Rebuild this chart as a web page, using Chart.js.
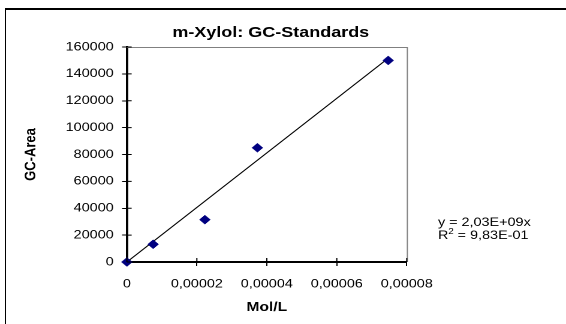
<!DOCTYPE html>
<html><head><meta charset="utf-8">
<script src="https://cdn.jsdelivr.net/npm/chart.js@4/dist/chart.umd.min.js"></script>
<style>
html,body{margin:0;padding:0;background:#fff;overflow:hidden;width:566px;height:324px;}
#frame{position:absolute;left:5px;top:8px;width:700px;height:500px;border-top:2px solid #000;border-left:1px solid #000;box-sizing:border-box;}
#wrap{position:absolute;left:0;top:0;width:472px;height:324px;transform:scaleX(1.19915);transform-origin:0 0;}
</style></head><body>
<div id="frame"></div>
<div id="wrap"><canvas id="c" width="472" height="324"></canvas></div>
<script>
// ---- data ----
const xValues = [0, 0.0000075, 0.0000223, 0.0000373, 0.0000747];
const yValues = [0, 13200, 31500, 85000, 150000];
const trendX = [0, 0.0000747];
const trendY = [0, 151600];
const xTickValues = [0, 0.00002, 0.00004, 0.00006, 0.00008];
const xTickLabels = ['0', '0,00002', '0,00004', '0,00006', '0,00008'];
const yTickValues = [0, 20000, 40000, 60000, 80000, 100000, 120000, 140000, 160000];
const yTickLabels = ['0', '20000', '40000', '60000', '80000', '100000', '120000', '140000', '160000'];
const titleText = 'm-Xylol: GC-Standards';
const xTitle = 'Mol/L';
const yTitle = 'GC-Area';
const eqLine1 = 'y = 2,03E+09x';
const eqLine2a = 'R';
const eqLine2sup = '2';
const eqLine2b = ' = 9,83E-01';

const FONT = "'Liberation Sans', Arial, sans-serif";
const TICK_IN = 4;

const innerTicks = {
  id: 'innerTicks',
  afterDatasetsDraw(chart) {
    const {ctx, chartArea: a, scales: {x, y}} = chart;
    ctx.save();
    ctx.strokeStyle = '#000';
    ctx.lineWidth = 1;
    ctx.beginPath();
    x.ticks.forEach(t => { const px = x.getPixelForValue(t.value); ctx.moveTo(px, a.bottom); ctx.lineTo(px, a.bottom - TICK_IN); });
    y.ticks.forEach(t => { const py = y.getPixelForValue(t.value); ctx.moveTo(a.left, py); ctx.lineTo(a.left + TICK_IN, py); });
    ctx.stroke();
    ctx.restore();
  }
};

const plotFrame = {
  id: 'plotFrame',
  beforeDatasetsDraw(chart) {
    const {ctx, chartArea: a} = chart;
    ctx.save();
    ctx.strokeStyle = '#808080';
    ctx.lineWidth = 1;
    ctx.beginPath();
    ctx.moveTo(a.left, a.top + 0.5);
    ctx.lineTo(a.right + 0.5, a.top + 0.5);
    ctx.lineTo(a.right + 0.5, a.bottom);
    ctx.stroke();
    ctx.restore();
  }
};

const equation = {
  id: 'equation',
  afterDraw(chart) {
    const {ctx, chartArea: a} = chart;
    ctx.save();
    ctx.fillStyle = '#000';
    ctx.textBaseline = 'alphabetic';
    ctx.textAlign = 'left';
    const x0 = a.right + 26;
    ctx.font = '12px ' + FONT;
    ctx.fillText(eqLine1, x0, a.bottom - 36);
    const b2 = a.bottom - 23;
    ctx.fillText(eqLine2a, x0, b2);
    let w = ctx.measureText(eqLine2a).width;
    ctx.font = '8px ' + FONT;
    ctx.fillText(eqLine2sup, x0 + w, b2 - 5);
    w += ctx.measureText(eqLine2sup).width;
    ctx.font = '12px ' + FONT;
    ctx.fillText(eqLine2b, x0 + w, b2);
    ctx.restore();
  }
};

new Chart(document.getElementById('c'), {
  type: 'scatter',
  data: {
    datasets: [
      {
        label: 'Standards',
        data: xValues.map((x, i) => ({x: x, y: yValues[i]})),
        pointStyle: 'rectRot',
        pointRadius: 4.5,
        backgroundColor: '#000080',
        borderColor: '#000080',
        borderWidth: 0.5,
        clip: false,
        order: 0
      },
      {
        label: 'Trend',
        data: trendX.map((x, i) => ({x: x, y: trendY[i]})),
        showLine: true,
        borderColor: '#000',
        borderWidth: 1,
        pointRadius: 0,
        fill: false,
        clip: false,
        order: 1
      }
    ]
  },
  options: {
    responsive: false,
    animation: false,
    devicePixelRatio: 2,
    layout: {padding: {left: 0, right: 20.4, top: 0, bottom: 0}},
    plugins: {
      legend: {display: false},
      tooltip: {enabled: false},
      title: {
        display: true, text: titleText, color: '#000',
        font: {family: FONT, size: 15, weight: 'bold'},
        padding: {top: 24, bottom: 5}
      }
    },
    scales: {
      x: {
        type: 'linear', position: 'bottom', min: 0, max: 0.00008,
        afterBuildTicks: s => { s.ticks = xTickValues.map(v => ({value: v})); },
        ticks: {
          callback: (v, i) => xTickLabels[i],
          font: {family: FONT, size: 12}, color: '#000', padding: 11,
          maxRotation: 0, autoSkip: false
        },
        grid: {display: true, drawOnChartArea: false, drawTicks: true, tickLength: 4, color: '#000', lineWidth: 1},
        border: {display: true, color: '#000', width: 2},
        title: {display: true, text: xTitle, color: '#000', font: {family: FONT, size: 13, weight: 'bold'}, padding: {top: 0, bottom: 8.7}},
        afterFit: s => { s.height = 62; }
      },
      y: {
        type: 'linear', position: 'left', min: 0, max: 160000,
        afterBuildTicks: s => { s.ticks = yTickValues.map(v => ({value: v})); },
        ticks: {
          callback: (v, i) => yTickLabels[i],
          font: {family: FONT, size: 12}, color: '#000', padding: 7, autoSkip: false
        },
        grid: {display: true, drawOnChartArea: false, drawTicks: true, tickLength: 4, color: '#000', lineWidth: 1},
        border: {display: true, color: '#000', width: 2},
        title: {display: true, text: yTitle, color: '#000', font: {family: FONT, size: 13, weight: 'bold'}, padding: {top: 18, bottom: 0}},
        afterFit: s => { s.width = 105.8; }
      },
      y2: {
        type: 'linear', position: 'right', min: 0, max: 1, display: true,
        ticks: {display: false},
        grid: {display: false, drawTicks: false},
        border: {display: false},
        afterFit: s => { s.width = 112.4; }
      }
    }
  },
  plugins: [plotFrame, innerTicks, equation]
});
</script>
</body></html>
